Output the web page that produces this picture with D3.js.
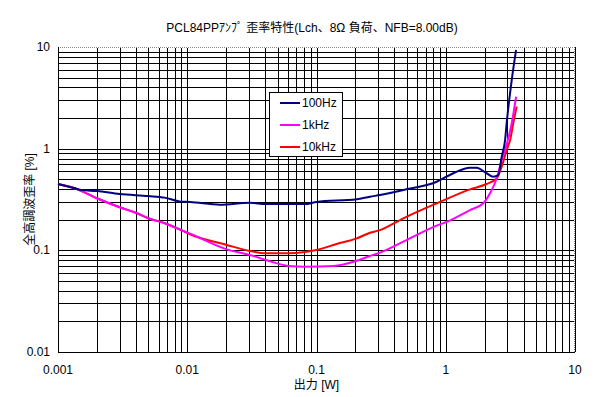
<!DOCTYPE html>
<html>
<head>
<meta charset="utf-8">
<script src="https://cdn.jsdelivr.net/npm/d3@7"></script>
<style>
  body { margin: 0; background: #fff; }
  svg { display: block; font-family: "Liberation Sans", "Noto Sans CJK JP", sans-serif; }
</style>
</head>
<body>
<svg id="chart" width="615" height="397"></svg>
<script>
// tick labels
var xTicks = [0.001, 0.01, 0.1, 1, 10];
var xTickLabels = ["0.001", "0.01", "0.1", "1", "10"];
var yTicks = [0.01, 0.1, 1, 10];
var yTickLabels = ["0.01", "0.1", "1", "10"];

// series (output W, THD %)
var seriesNames = ["100Hz", "1kHz", "10kHz"];
var seriesColors = ["#000080", "#ff00ff", "#ff0000"];

var p100 = [0.001, 0.00135, 0.00152, 0.002, 0.003, 0.005, 0.0067, 0.009, 0.0105, 0.0179, 0.0306, 0.0406, 0.0815, 0.1, 0.205, 0.259, 0.31, 0.47, 0.851, 1.144, 1.54, 1.736, 2.07, 2.33, 2.55, 2.71, 2.88, 2.96, 3.24, 3.5];
var thd100 = [0.449, 0.408, 0.392, 0.383, 0.358, 0.342, 0.330, 0.301, 0.299, 0.281, 0.294, 0.285, 0.285, 0.299, 0.318, 0.337, 0.350, 0.392, 0.473, 0.573, 0.650, 0.648, 0.573, 0.530, 0.549, 0.834, 1.22, 1.78, 4.73, 9.34];

var p1k = [0.001, 0.00135, 0.002, 0.003, 0.004, 0.005, 0.0067, 0.009, 0.0105, 0.0202, 0.0306, 0.0406, 0.0607, 0.0815, 0.135, 0.205, 0.259, 0.31, 0.47, 0.851, 1.02, 1.54, 1.95, 2.20, 2.48, 2.71, 2.96, 3.24, 3.5];
var thd1k = [0.449, 0.408, 0.325, 0.265, 0.234, 0.207, 0.1845, 0.158, 0.146, 0.1023, 0.090, 0.0804, 0.0702, 0.069, 0.0702, 0.079, 0.088, 0.095, 0.122, 0.175, 0.191, 0.249, 0.290, 0.364, 0.512, 0.774, 1.1, 1.78, 3.24];

var p10k = [0.001, 0.00135, 0.002, 0.003, 0.004, 0.005, 0.0067, 0.009, 0.0105, 0.0202, 0.0306, 0.0406, 0.0607, 0.0815, 0.1, 0.143, 0.205, 0.259, 0.31, 0.47, 0.851, 1.54, 2.07, 2.48, 2.71, 2.96, 3.15, 3.33, 3.54];
var thd10k = [0.449, 0.408, 0.325, 0.265, 0.234, 0.207, 0.1845, 0.158, 0.144, 0.113, 0.0985, 0.0935, 0.0935, 0.0963, 0.1008, 0.1155, 0.131, 0.149, 0.158, 0.2066, 0.290, 0.398, 0.449, 0.512, 0.665, 0.97, 1.22, 1.78, 2.59];

var seriesP = [p100, p1k, p10k];
var seriesT = [thd100, thd1k, thd10k];

var margin = {top: 47, right: 40, bottom: 45, left: 58};
var W = 615, H = 397;
var width = W - margin.left - margin.right,
    height = H - margin.top - margin.bottom;

var svg = d3.select('#chart');

var xScale = d3.scaleLog().domain([0.001, 10]).range([0, width]);
var yScale = d3.scaleLog().domain([0.01, 10]).range([height, 0]);

var g = svg.append('g')
  .attr('transform', 'translate(' + margin.left + ',' + margin.top + ')');

// gridlines (major + minor)
g.append('g')
  .attr('transform', 'translate(0,' + height + ')')
  .call(d3.axisBottom(xScale).tickValues(xScale.ticks()).tickSize(-height).tickFormat(''))
  .call(s => s.select('.domain').remove())
  .selectAll('line').attr('stroke', '#000').attr('shape-rendering', 'crispEdges');

g.append('g')
  .call(d3.axisLeft(yScale).tickValues(yScale.ticks()).tickSize(-width).tickFormat(''))
  .call(s => s.select('.domain').remove())
  .selectAll('line').attr('stroke', '#000').attr('shape-rendering', 'crispEdges');

// top / right border: dotted grey
g.append('path')
  .attr('d', 'M0,0.5H' + (width - 0.5) + 'V' + height)
  .attr('fill', 'none').attr('stroke', '#fff').attr('stroke-width', 1)
  .attr('shape-rendering', 'crispEdges');
g.append('path')
  .attr('d', 'M0,0.5H' + (width - 0.5) + 'V' + height)
  .attr('fill', 'none').attr('stroke', '#888').attr('stroke-dasharray', '1,1')
  .attr('shape-rendering', 'crispEdges');

// left / bottom axis lines
g.append('path')
  .attr('d', 'M0.5,0V' + (height + 0.5) + 'H' + width)
  .attr('fill', 'none').attr('stroke', '#000')
  .attr('shape-rendering', 'crispEdges');

// tick labels
g.selectAll('.xl').data(xTicks).enter().append('text')
  .attr('x', d => xScale(d))
  .attr('y', height + 22)
  .attr('text-anchor', 'middle')
  .style('font-size', '12px')
  .text((d, i) => xTickLabels[i]);

g.selectAll('.yl').data(yTicks).enter().append('text')
  .attr('x', -8)
  .attr('y', d => yScale(d) + 4)
  .attr('text-anchor', 'end')
  .style('font-size', '12px')
  .text((d, i) => yTickLabels[i]);

// lines
var line = d3.line()
  .x(d => xScale(d[0]))
  .y(d => yScale(d[1]))
  .curve(d3.curveMonotoneX);

// 10kHz first, 100Hz on top
[2, 1, 0].forEach(function (k) {
  var pts = seriesP[k].map((p, i) => [p, seriesT[k][i]]);
  g.append('path')
    .datum(pts)
    .attr('d', line)
    .attr('fill', 'none')
    .attr('stroke', seriesColors[k])
    .attr('stroke-width', 2);
});

// legend
var lg = svg.append('g').attr('transform', 'translate(269,92)');
lg.append('rect')
  .attr('x', 0.5).attr('y', 0.5)
  .attr('width', 73).attr('height', 64)
  .attr('fill', '#fff').attr('stroke', '#000');
seriesNames.forEach(function (name, i) {
  var yy = 11 + i * 22;
  lg.append('line')
    .attr('x1', 11).attr('x2', 31)
    .attr('y1', yy).attr('y2', yy)
    .attr('stroke', seriesColors[i]).attr('stroke-width', 2);
  lg.append('text')
    .attr('x', 33).attr('y', yy + 4)
    .style('font-size', '12px')
    .text(name);
});

// titles
svg.append('text')
  .attr('x', 312).attr('y', 32)
  .attr('text-anchor', 'middle')
  .style('font-size', '12px')
  .text('PCL84PPｱﾝﾌﾟ 歪率特性(Lch、8Ω 負荷、NFB=8.00dB)');

svg.append('text')
  .attr('x', margin.left + width / 2)
  .attr('y', 389)
  .attr('text-anchor', 'middle')
  .style('font-size', '12px')
  .text('出力  [W]');

svg.append('text')
  .attr('transform', 'translate(34,' + (margin.top + height / 2) + ') rotate(-90)')
  .attr('text-anchor', 'middle')
  .style('font-size', '12px')
  .text('全高調波歪率 [%]');
</script>
</body>
</html>
